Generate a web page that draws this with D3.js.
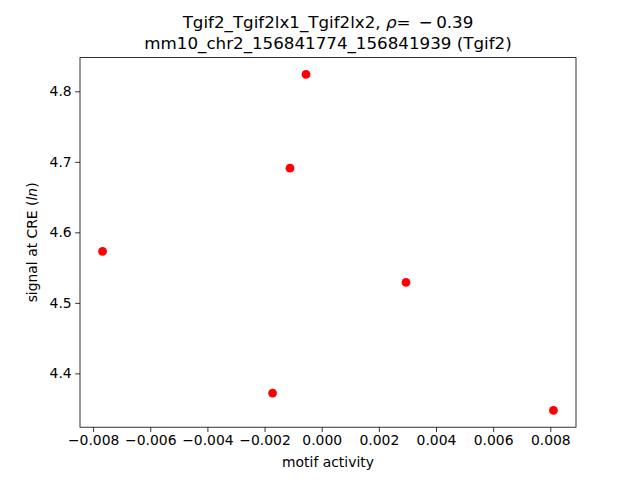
<!DOCTYPE html>
<html><head><meta charset="utf-8">
<script src="https://cdn.jsdelivr.net/npm/d3@7"></script>
<style>body{margin:0;background:#fff}svg{display:block}text{font-family:"DejaVu Sans",sans-serif;fill:#000}</style>
</head><body>
<script>
const motifActivity = [-0.00767, -0.00055, -0.00111, 0.00295, -0.00172, 0.00811];
const signal = [4.573, 4.824, 4.691, 4.529, 4.372, 4.3475];
const xTicks = [-0.008, -0.006, -0.004, -0.002, 0.000, 0.002, 0.004, 0.006, 0.008];
const yTicks = [4.4, 4.5, 4.6, 4.7, 4.8];

const W = 640, H = 480;
const L = 80, R = 576, T = 57.6, B = 427.2;
const svg = d3.select("body").append("svg").attr("width", W).attr("height", H);

function padded(v) {
  const mn = d3.min(v), mx = d3.max(v), r = mx - mn;
  return [mn - 0.05 * r, mx + 0.05 * r];
}
const x = d3.scaleLinear().domain(padded(motifActivity)).range([L, R]);
const y = d3.scaleLinear().domain(padded(signal)).range([B, T]);

const fmtX = d => d3.format(".3f")(d).replace("-", "\u2212");
const fmtY = d => d3.format(".1f")(d).replace("-", "\u2212");

const xAxis = svg.append("g").attr("transform", `translate(0,${B})`)
  .call(d3.axisBottom(x).tickValues(xTicks).tickFormat(fmtX).tickSize(4.86).tickPadding(3.5).tickSizeOuter(0));
const yAxis = svg.append("g").attr("transform", `translate(${L},0)`)
  .call(d3.axisLeft(y).tickValues(yTicks).tickFormat(fmtY).tickSize(4.86).tickPadding(3.5).tickSizeOuter(0));
[xAxis, yAxis].forEach(a => {
  a.select(".domain").remove();
  a.selectAll("line").attr("stroke", "#000").attr("stroke-width", 0.8);
  a.selectAll("text").attr("font-size", "13.9px").attr("font-family", "DejaVu Sans").attr("fill", "#000");
});

svg.append("rect").attr("x", L).attr("y", T).attr("width", R - L).attr("height", B - T)
  .attr("fill", "none").attr("stroke", "#000").attr("stroke-width", 0.8);

svg.append("g").selectAll("circle").data(motifActivity).join("circle")
  .attr("cx", d => x(d)).attr("cy", (d, i) => y(signal[i])).attr("r", 4.4).attr("fill", "#ff0000");

const cx = (L + R) / 2;
const t1 = svg.append("text").attr("x", cx).attr("y", 28).attr("text-anchor", "middle").attr("font-size", "16.7px");
t1.append("tspan").text("Tgif2_Tgif2lx1_Tgif2lx2, ");
t1.append("tspan").attr("font-style", "italic").text("\u03C1");
t1.append("tspan").attr("xml:space", "preserve").text("=\u2002\u2212\u20090.39");
svg.append("text").attr("x", cx).attr("y", 49).attr("text-anchor", "middle").attr("font-size", "16.7px")
  .text("mm10_chr2_156841774_156841939 (Tgif2)");

svg.append("text").attr("x", cx).attr("y", 467).attr("text-anchor", "middle").attr("font-size", "13.9px").text("motif activity");
const yl = svg.append("text").attr("transform", `translate(37,${(T + B) / 2}) rotate(-90)`)
  .attr("text-anchor", "middle").attr("font-size", "13.9px");
yl.append("tspan").text("signal at CRE (");
yl.append("tspan").attr("font-style", "italic").text("ln");
yl.append("tspan").text(")");
</script>
</body></html>
